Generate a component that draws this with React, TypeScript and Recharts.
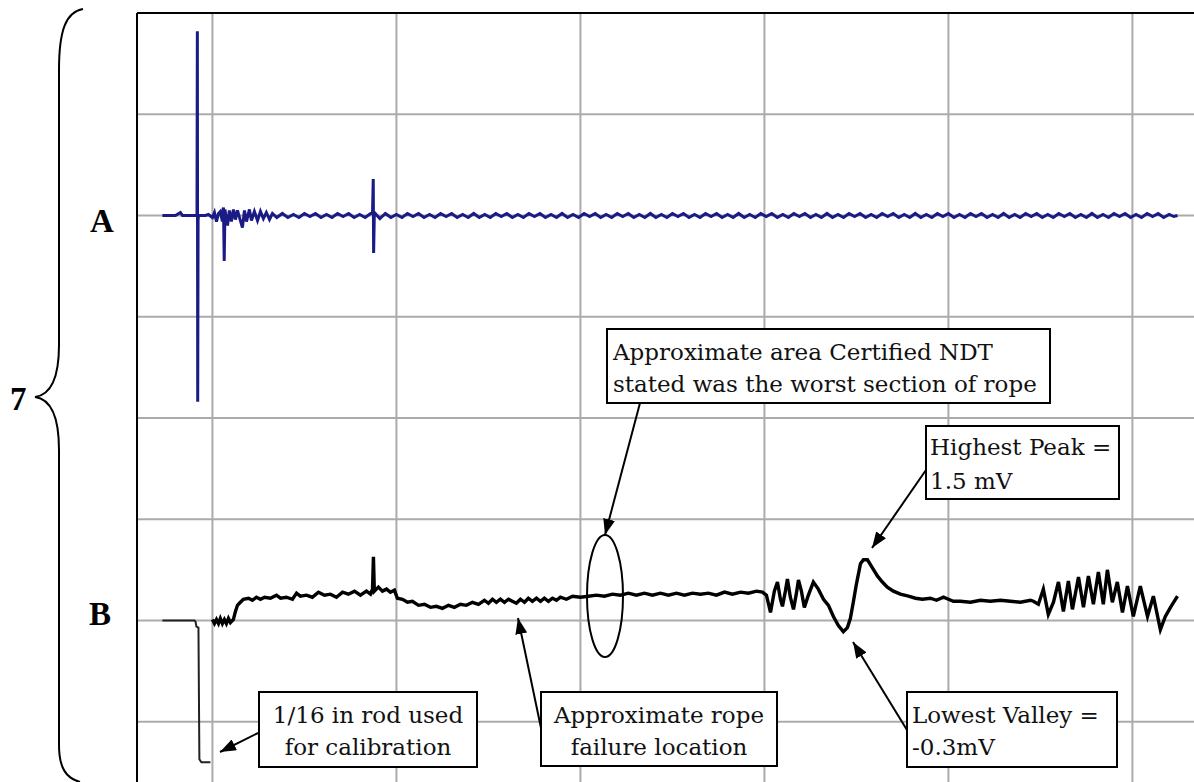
import React from "react";
import {LineChart, Line, XAxis, YAxis, ReferenceLine} from "recharts";

// x in tenths of a grid division, y in grid divisions (each channel relative to its own baseline)
const xTicks = [0, 10, 20, 30, 40, 50];
const yTicks = [-2, -1, 0, 1, 2, 3, 4, 5];
const xDomain: [number, number] = [-4.1, 54];
const yDomainB: [number, number] = [-2, 6];
const yDomainA: [number, number] = [-6, 2];

// channel A (blue trace, upper)
const channelA: [number, number][] = [
    [-2.72, 0], [-2.01, 0], [-1.74, 0.03], [-1.63, 0], [-0.87, 0],
    [-0.84, 0], [-0.82, 1.82], [-0.8, -1.84], [-0.78, -0.05], [-0.76, 0],
    [-0.38, 0], [-0.22, 0.01], [0, -0.02], [0.11, 0.03], [0.22, -0.06], [0.33, 0.02],
    [0.43, 0.04], [0.54, -0.06], [0.6, 0.08], [0.64, -0.45], [0.68, 0.06], [0.82, -0.1],
    [0.92, 0.05], [1.03, -0.06], [1.14, 0.06], [1.25, -0.04], [1.36, 0.05], [1.52, -0.05],
    [1.63, -0.12], [1.74, 0.05], [1.85, -0.06], [2.01, 0.06], [2.12, -0.05], [2.28, 0.04],
    [2.45, -0.05], [2.61, 0.04], [2.77, -0.03], [2.93, 0.03], [3.1, -0.04], [3.26, 0.02],
    [3.5, -0.02], [3.8, 0.02], [4.1, -0.02], [4.4, 0.01], [4.7, -0.02], [5.0, 0.02],
    [5.3, -0.01], [5.6, 0.02], [5.9, -0.02], [6.2, 0.01], [6.5, -0.02], [6.8, 0.02],
    [7.1, -0.01], [7.4, 0.02], [7.7, -0.02], [8.0, 0.01], [8.3, -0.02], [8.6, 0.02],
    [8.7, 0.02], [8.74, 0.36], [8.76, -0.37], [8.8, 0.03],
    [9.1, -0.03], [9.4, 0.02], [9.7, -0.02], [10.0, 0.01], [10.3, -0.02], [10.6, 0.02],
    [10.9, -0.01], [11.2, 0.02], [11.5, -0.02], [11.8, 0.01], [12.1, -0.02], [12.4, 0.02],
    [12.7, -0.01], [13.0, 0.02], [13.3, -0.02], [13.6, 0.01], [13.9, -0.02], [14.2, 0.02],
    [14.5, -0.02], [14.8, 0.01], [15.1, -0.02], [15.4, 0.02], [15.7, -0.01], [16.0, 0.02],
    [16.3, -0.02], [16.6, 0.01], [16.9, -0.02], [17.2, 0.02], [17.5, -0.01], [17.8, 0.02],
    [18.1, -0.02], [18.4, 0.01], [18.7, -0.02], [19.0, 0.02], [19.3, -0.02], [19.6, 0.01],
    [19.9, -0.02], [20.2, 0.02], [20.5, -0.01], [20.8, 0.02], [21.1, -0.02], [21.4, 0.01],
    [21.7, -0.02], [22.0, 0.02], [22.3, -0.01], [22.6, 0.02], [22.9, -0.02], [23.2, 0.01],
    [23.5, -0.02], [23.8, 0.02], [24.1, -0.02], [24.4, 0.01], [24.7, -0.02], [25.0, 0.02],
    [25.3, -0.01], [25.6, 0.02], [25.9, -0.02], [26.2, 0.01], [26.5, -0.02], [26.8, 0.02],
    [27.1, -0.01], [27.4, 0.02], [27.7, -0.02], [28.0, 0.01], [28.3, -0.02], [28.6, 0.02],
    [28.9, -0.02], [29.2, 0.01], [29.5, -0.02], [29.8, 0.02], [30.1, -0.01], [30.4, 0.02],
    [30.7, -0.02], [31.0, 0.01], [31.3, -0.02], [31.6, 0.02], [31.9, -0.01], [32.2, 0.02],
    [32.5, -0.02], [32.8, 0.01], [33.1, -0.02], [33.4, 0.02], [33.7, -0.02], [34.0, 0.01],
    [34.3, -0.02], [34.6, 0.02], [34.9, -0.01], [35.2, 0.02], [35.5, -0.02], [35.8, 0.01],
    [36.1, -0.02], [36.4, 0.02], [36.7, -0.01], [37.0, 0.02], [37.3, -0.02], [37.6, 0.01],
    [37.9, -0.02], [38.2, 0.02], [38.5, -0.02], [38.8, 0.01], [39.1, -0.02], [39.4, 0.02],
    [39.7, -0.01], [40.0, 0.02], [40.3, -0.02], [40.6, 0.01], [40.9, -0.02], [41.2, 0.02],
    [41.5, -0.01], [41.8, 0.02], [42.1, -0.02], [42.4, 0.01], [42.7, -0.02], [43.0, 0.02],
    [43.3, -0.02], [43.6, 0.01], [43.9, -0.02], [44.2, 0.02], [44.5, -0.01], [44.8, 0.02],
    [45.1, -0.02], [45.4, 0.01], [45.7, -0.02], [46.0, 0.02], [46.3, -0.01], [46.6, 0.02],
    [46.9, -0.02], [47.2, 0.01], [47.5, -0.02], [47.8, 0.02], [48.1, -0.02], [48.4, 0.01],
    [48.7, -0.02], [49.0, 0.02], [49.3, -0.01], [49.6, 0.02], [49.9, -0.02], [50.2, 0.01],
    [50.5, -0.02], [50.8, 0.02], [51.1, -0.01], [51.4, 0.02], [51.7, -0.02], [52.0, 0.01],
    [52.25, -0.01], [52.45, 0],
];

// channel B before the scan: calibration with the 1/16 in rod
const calibrationB: [number, number][] = [
    [-2.72, 0], [-0.98, 0], [-0.92, -0.01], [-0.87, -0.06], [-0.76, -0.07], [-0.71, -1.37],
    [-0.6, -1.4], [-0.11, -1.4],
];

// channel B scan (black trace, lower)
const channelB: [number, number][] = [
    [0, 0.01], [0.11, -0.03], [0.22, 0.01], [0.33, -0.03], [0.43, 0.02], [0.54, -0.03],
    [0.65, 0.01], [0.76, -0.03], [0.87, 0.02], [0.98, -0.02], [1.14, 0.01], [1.25, 0.09],
    [1.36, 0.15], [1.52, 0.18], [1.68, 0.21], [1.96, 0.22], [2.17, 0.2], [2.39, 0.23],
    [2.61, 0.21], [2.83, 0.23], [3.15, 0.22], [3.48, 0.25], [3.7, 0.22], [4.02, 0.23],
    [4.35, 0.21], [4.57, 0.27], [4.78, 0.24], [5.11, 0.25], [5.43, 0.23], [5.76, 0.28],
    [6.09, 0.25], [6.41, 0.26], [6.74, 0.23], [7.07, 0.28], [7.39, 0.26], [7.72, 0.29],
    [8.04, 0.25], [8.37, 0.29], [8.59, 0.26], [8.7, 0.31], [8.75, 0.63], [8.8, 0.29],
    [9.02, 0.33], [9.24, 0.29], [9.46, 0.31], [9.67, 0.28], [9.89, 0.3], [10.05, 0.22],
    [10.33, 0.21], [10.6, 0.18], [10.87, 0.19], [11.2, 0.15], [11.52, 0.16], [11.85, 0.13],
    [12.17, 0.14], [12.5, 0.12], [12.83, 0.15], [13.15, 0.13], [13.48, 0.16], [13.8, 0.15],
    [14.13, 0.18], [14.46, 0.16], [14.78, 0.2], [15.0, 0.17], [15.22, 0.21], [15.43, 0.18],
    [15.65, 0.21], [15.87, 0.18], [16.09, 0.21], [16.3, 0.19], [16.52, 0.17], [16.74, 0.21],
    [16.96, 0.18], [17.17, 0.22], [17.39, 0.19], [17.61, 0.22], [17.83, 0.19], [18.04, 0.22],
    [18.26, 0.19], [18.48, 0.22], [18.7, 0.2], [18.91, 0.23], [19.24, 0.21], [19.57, 0.24],
    [20.0, 0.23], [20.43, 0.24], [20.87, 0.25], [21.3, 0.24], [21.74, 0.26], [22.17, 0.25],
    [22.61, 0.27], [23.04, 0.25], [23.48, 0.27], [23.91, 0.25], [24.35, 0.27], [24.78, 0.25],
    [25.22, 0.27], [25.65, 0.25], [26.09, 0.27], [26.52, 0.26], [26.96, 0.27], [27.39, 0.25],
    [27.83, 0.28], [28.26, 0.26], [28.7, 0.28], [29.13, 0.27], [29.57, 0.29], [29.89, 0.28],
    [30.11, 0.25], [30.33, 0.08], [30.54, 0.29], [30.71, 0.38], [30.87, 0.21], [30.98, 0.14],
    [31.14, 0.29], [31.25, 0.41], [31.41, 0.23], [31.58, 0.11], [31.74, 0.27], [31.85, 0.4],
    [32.01, 0.29], [32.17, 0.13], [32.39, 0.25], [32.66, 0.38], [32.93, 0.31], [33.21, 0.21],
    [33.48, 0.15], [33.75, 0.04], [34.02, -0.05], [34.29, -0.11], [34.51, -0.07], [34.67, 0.02],
    [34.84, 0.19], [35.0, 0.36], [35.22, 0.56], [35.38, 0.6], [35.6, 0.6], [35.87, 0.52],
    [36.14, 0.44], [36.41, 0.38], [36.68, 0.33], [37.01, 0.29], [37.39, 0.26], [37.83, 0.24],
    [38.21, 0.22], [38.59, 0.21], [39.02, 0.22], [39.35, 0.2], [39.73, 0.23], [40.0, 0.21],
    [40.27, 0.19], [40.65, 0.19], [41.2, 0.18], [41.74, 0.2], [42.28, 0.19], [42.83, 0.2],
    [43.37, 0.19], [43.91, 0.18], [44.46, 0.2], [44.62, 0.19], [44.89, 0.16], [45.16, 0.31],
    [45.43, 0.06], [45.71, 0.18], [45.98, 0.38], [46.25, 0.09], [46.52, 0.39], [46.74, 0.11],
    [47.07, 0.43], [47.34, 0.13], [47.61, 0.44], [47.88, 0.16], [48.15, 0.48], [48.42, 0.16],
    [48.64, 0.5], [48.91, 0.18], [49.18, 0.38], [49.46, 0.08], [49.73, 0.34], [50.05, 0.04],
    [50.43, 0.34], [50.82, 0.04], [51.14, 0.24], [51.52, -0.09], [51.79, 0.04], [52.07, 0.13],
    [52.45, 0.24],
];

const dataA = channelA.map(([x, y]) => ({x, y}));
const dataCal = calibrationB.map(([x, y]) => ({x, y}));
const dataB = channelB.map(([x, y]) => ({x, y}));

const serif = "'DejaVu Serif', serif";
const bold = "'Liberation Serif', serif";
const gridColor = "#ababab";

function Overlay() {
    const boxText = {fontFamily: serif, fontSize: 23, fill: "#111"};
    return (
        <svg width={1194} height={782} style={{position: "absolute", left: 0, top: 0, pointerEvents: "none"}}>
            <defs>
                <marker id="ah" markerWidth={16} markerHeight={12} refX={16} refY={6} orient="auto"
                        markerUnits="userSpaceOnUse">
                    <path d="M0,0 L16,6 L0,12 z" fill="#000"/>
                </marker>
            </defs>

            {/* brace and channel labels */}
            <path d="M 83 9 C 66 12 59 30 59 70 L 59 345 C 59 380 50 395 35 397 C 50 399 59 414 59 450 L 59 745 C 59 768 66 778 80 782"
                  fill="none" stroke="#000" strokeWidth={2}/>
            <text x={10} y={410} fontFamily={bold} fontWeight="bold" fontSize={33}>7</text>
            <text x={90} y={232} fontFamily={bold} fontWeight="bold" fontSize={33}>A</text>
            <text x={89} y={625} fontFamily={bold} fontWeight="bold" fontSize={33}>B</text>

            <ellipse cx={605} cy={596} rx={18} ry={61} fill="none" stroke="#000" strokeWidth={2}/>

            {/* arrows */}
            <g stroke="#000" strokeWidth={2} markerEnd="url(#ah)">
                <line x1={258} y1={733} x2={220} y2={752}/>
                <line x1={541} y1={728} x2={518} y2={618}/>
                <line x1={907} y1={730} x2={853} y2={642}/>
                <line x1={926} y1={470} x2={872} y2={548}/>
                <line x1={640} y1={403} x2={605} y2={535}/>
            </g>

            {/* callout boxes */}
            <g fill="#fff" stroke="#000" strokeWidth={2}>
                <rect x={259} y={692} width={218} height={75}/>
                <rect x={541} y={692} width={236} height={74}/>
                <rect x={907} y={692} width={210} height={75}/>
                <rect x={926} y={426} width={193} height={73}/>
                <rect x={607} y={329} width={443} height={74}/>
            </g>
            <text {...boxText} x={368} y={723} textAnchor="middle">1/16 in rod used</text>
            <text {...boxText} x={368} y={755} textAnchor="middle">for calibration</text>
            <text {...boxText} x={659} y={723} textAnchor="middle">Approximate rope</text>
            <text {...boxText} x={659} y={755} textAnchor="middle">failure location</text>
            <text {...boxText} x={912} y={723}>Lowest Valley =</text>
            <text {...boxText} x={912} y={755}>-0.3mV</text>
            <text {...boxText} x={930} y={455}>Highest Peak =</text>
            <text {...boxText} x={930} y={489}>1.5 mV</text>
            <text {...boxText} x={613} y={360}>Approximate area Certified NDT</text>
            <text {...boxText} x={613} y={392}>stated was the worst section of rope</text>
        </svg>
    );
}

export default function App() {
    return (
        <div style={{position: "absolute", left: 0, top: 0, width: 1194, height: 782, overflow: "hidden", background: "#fff"}}>
            <LineChart width={1206} height={830} margin={{top: 13, right: 0, left: 137, bottom: 7}}>
                <XAxis type="number" dataKey="x" domain={xDomain} allowDataOverflow hide/>
                <YAxis yAxisId="b" type="number" domain={yDomainB} allowDataOverflow hide/>
                <YAxis yAxisId="a" type="number" domain={yDomainA} allowDataOverflow hide/>
                {xTicks.map((t) => (
                    <ReferenceLine key={"vx" + t} x={t} yAxisId="b" stroke={gridColor} strokeWidth={2}/>
                ))}
                {yTicks.map((t) => (
                    <ReferenceLine key={"hy" + t} y={t} yAxisId="b" stroke={gridColor} strokeWidth={2}/>
                ))}
                {/* plot frame: left and top edges */}
                <ReferenceLine x={xDomain[0]} yAxisId="b" stroke="#000" strokeWidth={2}/>
                <ReferenceLine y={yDomainB[1]} yAxisId="b" stroke="#000" strokeWidth={2}/>
                <Line yAxisId="a" data={dataA} dataKey="y" type="linear" stroke="#1b1b86" strokeWidth={3}
                      dot={false} isAnimationActive={false}/>
                <Line yAxisId="b" data={dataCal} dataKey="y" type="linear" stroke="#222" strokeWidth={2}
                      dot={false} isAnimationActive={false}/>
                <Line yAxisId="b" data={dataB} dataKey="y" type="linear" stroke="#000" strokeWidth={3.4}
                      dot={false} isAnimationActive={false}/>
            </LineChart>
            <Overlay/>
        </div>
    );
}
